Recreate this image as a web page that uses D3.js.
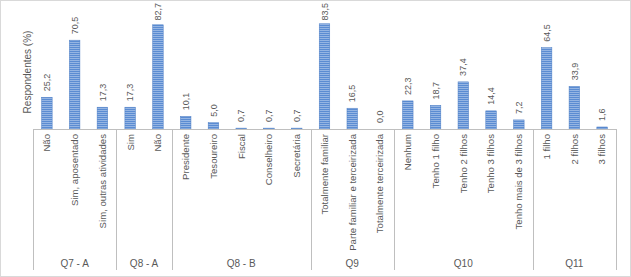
<!DOCTYPE html>
<html><head><meta charset="utf-8">
<script src="https://cdn.jsdelivr.net/npm/d3@7"></script>
<style>body{margin:0;background:#fff}svg{display:block}</style>
</head><body>
<svg id="c" width="631" height="277"></svg>
<script>
const groups = ["Q7 - A","Q8 - A","Q8 - B","Q9","Q10","Q11"];
const categories = [
  ["Não","Sim, aposentado","Sim, outras atividades"],
  ["Sim","Não"],
  ["Presidente","Tesoureiro","Fiscal","Conselheiro","Secretária"],
  ["Totalmente familiar","Parte familiar e terceirizada","Totalmente terceirizada"],
  ["Nenhum","Tenho 1 filho","Tenho 2 filhos","Tenho 3 filhos","Tenho mais de 3 filhos"],
  ["1 filho","2 filhos","3 filhos"]
];
const values = [
  [25.2,70.5,17.3],
  [17.3,82.7],
  [10.1,5.0,0.7,0.7,0.7],
  [83.5,16.5,0.0],
  [22.3,18.7,37.4,14.4,7.2],
  [64.5,33.9,1.6]
];
const svg = d3.select("#c");
const defs = svg.append("defs");
const pat = defs.append("pattern").attr("id","stripes").attr("patternUnits","userSpaceOnUse")
  .attr("width",4).attr("height",2);
pat.append("rect").attr("width",4).attr("height",2).attr("fill","#5b8cd2");
pat.append("rect").attr("width",4).attr("height",0.8).attr("fill","#a3c0e8");

svg.append("rect").attr("x",0.5).attr("y",0.5).attr("width",630).attr("height",276)
  .attr("fill","none").attr("stroke","#d9d9d9");

const flat = [];
groups.forEach((g,gi)=>categories[gi].forEach((c,ci)=>flat.push({g:gi,c,v:values[gi][ci],id:gi+"_"+ci})));
const x0 = 33, x1 = 616, base = 129;
const x = d3.scaleBand().domain(flat.map(d=>d.id)).range([x0,x1]).paddingInner(0.62).paddingOuter(0.31);
const y = d3.scaleLinear().domain([0,100]).range([base,3]);
const step = x.step();
const grey = "#595959";
const narrow = "'Liberation Sans Narrow','Liberation Sans',Arial,sans-serif";

svg.selectAll("rect.bar").data(flat).join("rect").attr("class","bar")
  .attr("x",d=>x(d.id)).attr("width",x.bandwidth())
  .attr("y",d=>y(d.v)).attr("height",d=>base-y(d.v))
  .attr("fill","url(#stripes)").attr("stroke","#4a7cc4").attr("stroke-width",0.5);

svg.selectAll("text.val").data(flat).join("text").attr("class","val")
  .attr("dy","0.35em").attr("font-family","'Liberation Sans',Arial,sans-serif")
  .attr("font-size",9).attr("fill",grey).text(d=>d3.format(".1f")(d.v).replace(".",","))
  .attr("transform",function(d){
    const w = this.getComputedTextLength();
    let b = y(d.v)-6;
    if (b - w < 3) b = 3 + w;
    return `translate(${x(d.id)+x.bandwidth()/2},${b}) rotate(-90)`;
  });

svg.selectAll("text.cat").data(flat).join("text").attr("class","cat")
  .attr("transform",d=>`translate(${x(d.id)+x.bandwidth()/2},134) rotate(-90)`)
  .attr("text-anchor","end").attr("dy","0.35em").attr("font-family",narrow)
  .attr("font-size",9.6).attr("fill",grey).text(d=>d.c);

svg.append("line").attr("x1",x0).attr("x2",x1).attr("y1",base+0.5).attr("y2",base+0.5)
  .attr("stroke","#bfbfbf");
let idx = 0;
const bounds = [x0];
groups.forEach((g,gi)=>{ idx += categories[gi].length; bounds.push(x0 + idx*step); });
svg.selectAll("line.sep").data(bounds).join("line").attr("class","sep")
  .attr("x1",d=>Math.round(d)+0.5).attr("x2",d=>Math.round(d)+0.5).attr("y1",base).attr("y2",270)
  .attr("stroke","#bfbfbf");
svg.selectAll("text.grp").data(groups).join("text").attr("class","grp")
  .attr("x",(d,i)=>(bounds[i]+bounds[i+1])/2).attr("y",267)
  .attr("text-anchor","middle").attr("font-family",narrow).attr("font-size",10)
  .attr("fill",grey).text(d=>d);

svg.append("text").attr("transform","translate(27,72) rotate(-90)")
  .attr("text-anchor","middle").attr("dy","0.35em").attr("font-family",narrow)
  .attr("font-size",10).attr("fill",grey).text("Respondentes (%)");
</script>
</body></html>
